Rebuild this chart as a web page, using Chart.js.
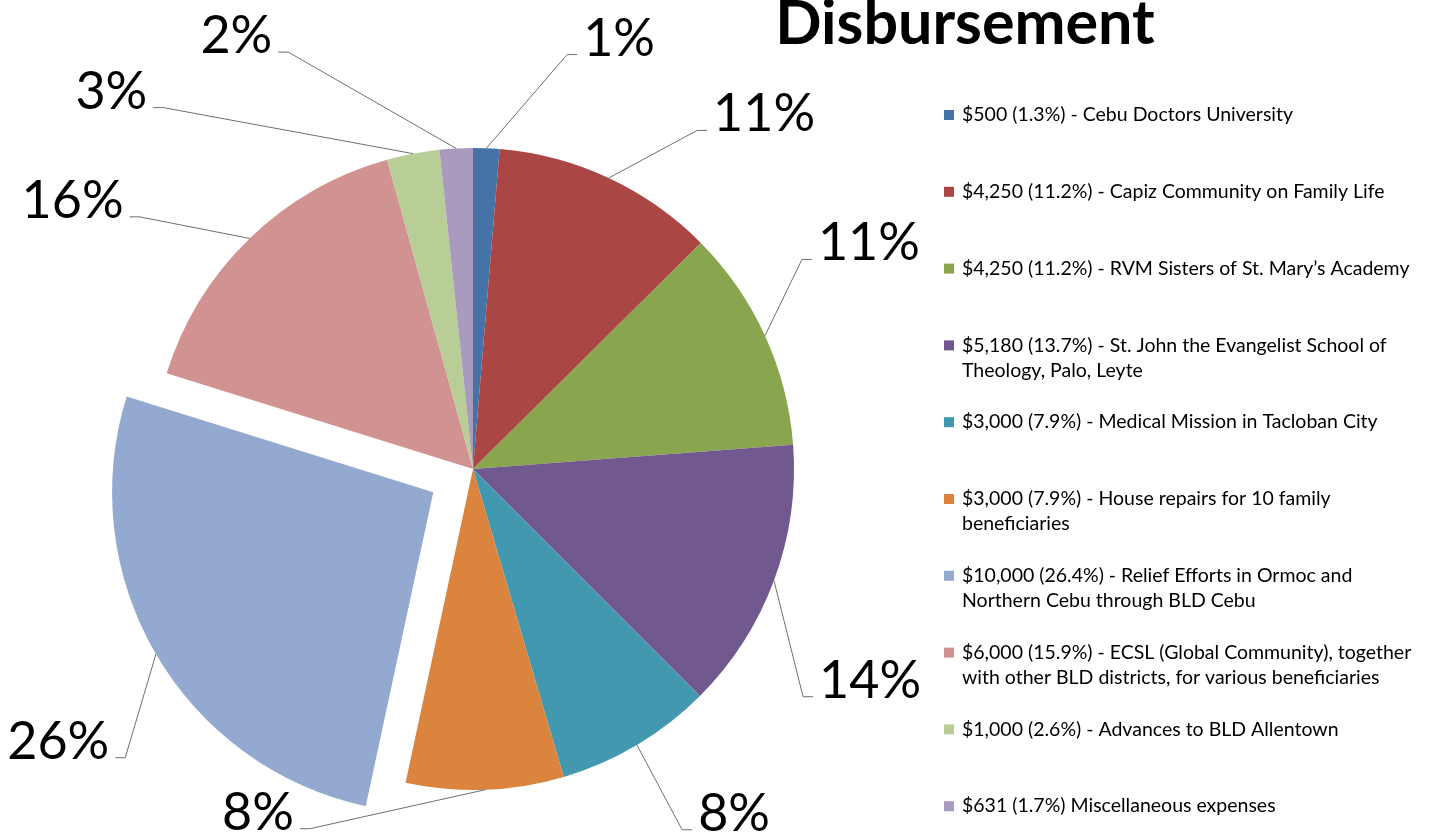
<!DOCTYPE html>
<html>
<head>
<meta charset="utf-8">
<title>Disbursement</title>
<script src="https://cdn.jsdelivr.net/npm/chart.js@4/dist/chart.umd.min.js"></script>
<style>
  body { margin: 0; background: #fff; }
  #wrap { width: 1433px; height: 835px; }
</style>
</head>
<body>
<div id="wrap"><canvas id="pie" width="1433" height="835"></canvas></div>
<script>
// data
const labels = [
  ["$500 (1.3%) - Cebu Doctors University"],
  ["$4,250 (11.2%) - Capiz Community on Family Life"],
  ["$4,250 (11.2%) - RVM Sisters of St. Mary\u2019s Academy"],
  ["$5,180 (13.7%) - St. John the Evangelist School of", "Theology, Palo, Leyte"],
  ["$3,000 (7.9%) - Medical Mission in Tacloban City"],
  ["$3,000 (7.9%) - House repairs for 10 family", "beneficiaries"],
  ["$10,000 (26.4%) - Relief Efforts in Ormoc and", "Northern Cebu through BLD Cebu"],
  ["$6,000 (15.9%) - ECSL (Global Community), together", "with other BLD districts, for various beneficiaries"],
  ["$1,000 (2.6%) - Advances to BLD Allentown"],
  ["$631 (1.7%) Miscellaneous expenses"]
];
const amounts = [500, 4250, 4250, 5180, 3000, 3000, 10000, 6000, 1000, 631];
const colors = ["#4572A7", "#AA4643", "#89A54E", "#71588F", "#4198AF",
                "#DB843D", "#93A9CF", "#D19392", "#B9CD96", "#A99BBD"];
const exploded = [0, 0, 0, 0, 0, 0, 184, 0, 0, 0];

// where each leader line bends (angle in degrees, distance from pie centre)
const calloutAngle = [-77.2, -56.5, -32.5, 34.6, 59.9, 114.4, 140.3, 217.1, 229.4, 246.1];
const calloutDist = [425, 406, 390, 401, 417, 395, 452, 418, 476, 456];

const labelFont = "52px Lato, 'Open Sans', sans-serif";
const legendFont = "19.5px Lato, 'Open Sans', sans-serif";

const total = amounts.reduce((a, b) => a + b, 0);

const calloutPlugin = {
  id: "callouts",
  afterDatasetsDraw(chart) {
    const ctx = chart.ctx;
    const arcs = chart.getDatasetMeta(0).data;
    ctx.save();
    ctx.strokeStyle = "#6f6f6f";
    ctx.lineWidth = 1;
    ctx.fillStyle = "#000";
    ctx.font = labelFont;
    ctx.textBaseline = "alphabetic";
    arcs.forEach((arc, i) => {
      const p = arc.getProps(["x", "y", "startAngle", "endAngle", "outerRadius"], true);
      const mid = (p.startAngle + p.endAngle) / 2;
      const shift = (arc.options.offset || 0) / 4;
      const sx = p.x + Math.cos(mid) * (p.outerRadius + shift);
      const sy = p.y + Math.sin(mid) * (p.outerRadius + shift);
      const a = calloutAngle[i] * Math.PI / 180;
      const ex = p.x + Math.cos(a) * calloutDist[i];
      const ey = p.y + Math.sin(a) * calloutDist[i];
      const dir = Math.cos(a) >= 0 ? 1 : -1;
      const hx = ex + dir * 10;
      ctx.beginPath();
      ctx.moveTo(sx, sy);
      ctx.lineTo(ex, ey);
      ctx.lineTo(hx, ey);
      ctx.stroke();
      const txt = Math.round(amounts[i] / total * 100) + "%";
      ctx.textAlign = dir > 0 ? "left" : "right";
      ctx.fillText(txt, hx + dir * 6, ey + 1);
    });
    ctx.restore();
  }
};

const sidePlugin = {
  id: "sideText",
  afterDraw(chart) {
    const ctx = chart.ctx;
    ctx.save();
    // title
    ctx.fillStyle = "#000";
    ctx.font = "bold 61px Lato, 'Open Sans', sans-serif";
    ctx.textAlign = "center";
    ctx.textBaseline = "alphabetic";
    ctx.fillText("Disbursement", 965, 44);
    // legend
    ctx.font = legendFont;
    ctx.textAlign = "left";
    ctx.textBaseline = "middle";
    labels.forEach((lines, i) => {
      const y = 115 + i * 76.8;
      ctx.fillStyle = colors[i];
      ctx.fillRect(944, y - 5, 10, 10);
      ctx.fillStyle = "#000";
      lines.forEach((ln, j) => ctx.fillText(ln, 962, y + j * 25));
    });
    ctx.restore();
  }
};

new Chart(document.getElementById("pie"), {
  type: "pie",
  data: {
    labels: labels,
    datasets: [{
      data: amounts,
      backgroundColor: colors,
      borderWidth: 0,
      offset: exploded,
      hoverOffset: 0
    }]
  },
  options: {
    responsive: false,
    animation: false,
    events: [],
    radius: 321,
    layout: { padding: { left: 0, right: 487, top: 103, bottom: 0 } },
    plugins: {
      legend: { display: false },
      title: { display: false },
      tooltip: { enabled: false }
    }
  },
  plugins: [calloutPlugin, sidePlugin]
});
</script>
</body>
</html>
